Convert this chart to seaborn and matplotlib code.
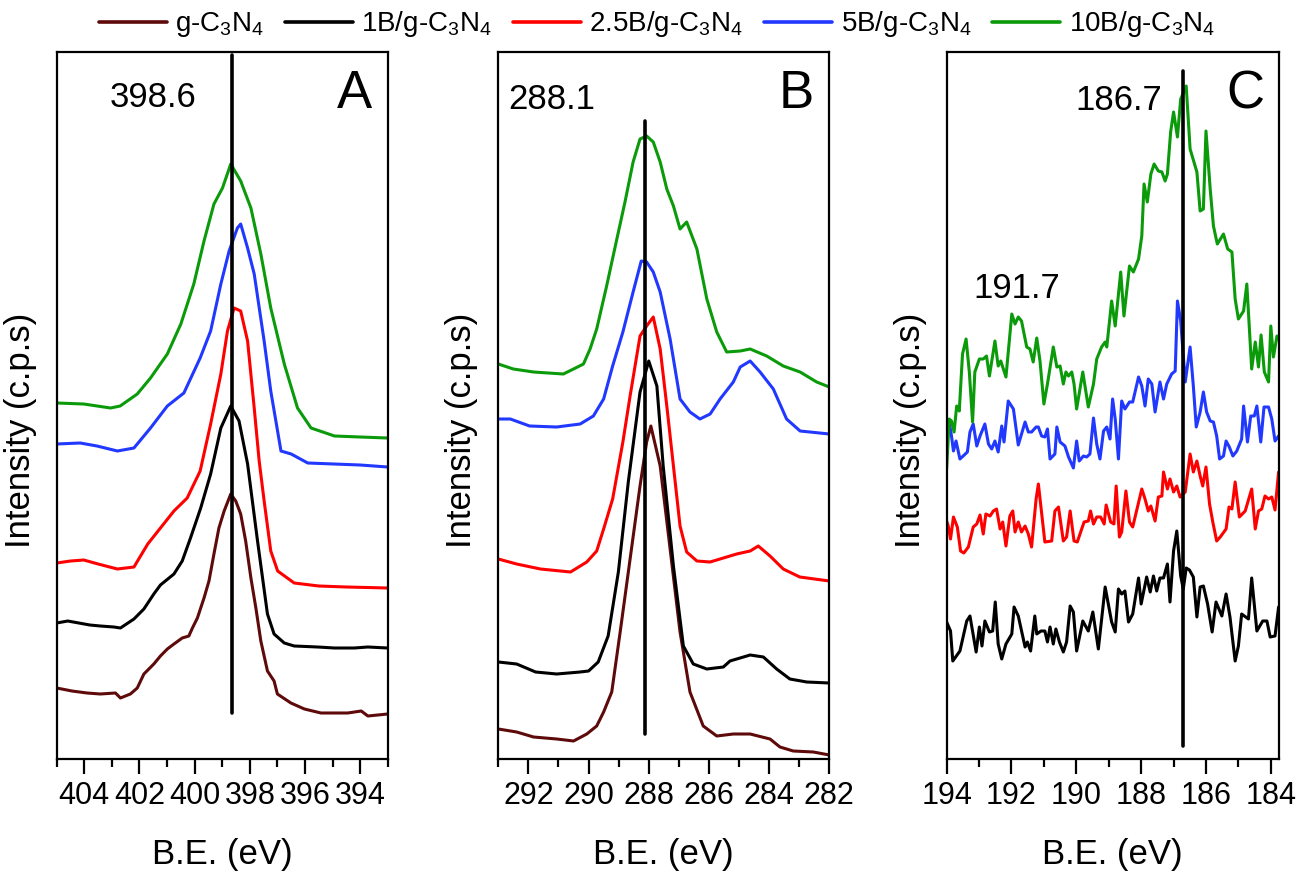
import numpy as np
import pandas as pd
import matplotlib.pyplot as plt
from matplotlib.lines import Line2D
from matplotlib.ticker import MultipleLocator
import seaborn as sns

# ---- data (binding energy in eV, intensity in arbitrary offset units) ----
samples = ['g-C3N4', '1B/g-C3N4', '2.5B/g-C3N4', '5B/g-C3N4', '10B/g-C3N4']
labels = [r'g-C$_3$N$_4$', r'1B/g-C$_3$N$_4$', r'2.5B/g-C$_3$N$_4$',
          r'5B/g-C$_3$N$_4$', r'10B/g-C$_3$N$_4$']

# N 1s
a_brown_x = [405.0, 404.45, 403.9, 403.42, 402.87, 402.69, 402.33, 402.08, 401.84, 401.48, 401.24,
             400.99, 400.75, 400.45, 400.21, 400.08, 399.9, 399.66, 399.48, 399.3, 399.12, 398.93,
             398.69, 398.51, 398.33, 398.15, 397.96, 397.78, 397.6, 397.36, 397.12, 397.0, 396.51,
             396.02, 395.42, 394.93, 394.45, 393.96, 393.72, 393.0]
a_brown_y = [71, 68, 66, 65, 66, 61, 65, 71, 85, 95, 103, 110, 115, 121, 123, 131, 141, 161, 178,
             205, 231, 248, 265, 258, 245, 218, 181, 151, 118, 88, 78, 65, 56, 50, 46, 46, 46, 48,
             43, 45]
a_black_x = [405.0, 404.6, 404.2, 403.8, 403.42, 402.93, 402.69, 402.2, 401.84, 401.48, 401.24,
             400.75, 400.45, 400.15, 399.78, 399.42, 399.05, 398.69, 398.39, 398.08, 397.72, 397.36,
             397.12, 396.75, 396.39, 395.54, 394.93, 394.21, 393.72, 393.0]
a_black_y = [136, 138, 136, 134, 133, 132, 131, 140, 150, 165, 174, 185, 198, 221, 251, 285, 331,
             353, 338, 295, 218, 145, 125, 116, 113, 112, 111, 111, 112, 111]
a_red_x = [405.0, 404.5, 404.02, 403.5, 402.8, 402.2, 401.7, 401.24, 400.75, 400.27, 399.8, 399.42,
           399.05, 398.81, 398.57, 398.33, 398.08, 397.84, 397.66, 397.48, 397.24, 396.99, 396.39,
           395.5, 394.5, 393.0]
a_red_y = [196, 198, 199, 195, 190, 192, 215, 231, 248, 261, 288, 335, 385, 428, 451, 448, 418, 351,
           298, 258, 208, 188, 176, 173, 172, 171]
a_blue_x = [405.0, 404.15, 403.54, 402.8, 402.2, 401.6, 400.99, 400.39, 399.8, 399.42, 399.05,
            398.75, 398.45, 398.33, 398.08, 397.84, 397.48, 397.24, 396.87, 396.5, 395.9, 394.95,
            394.0, 393.0]
a_blue_y = [315, 316, 313, 308, 311, 331, 353, 366, 401, 428, 475, 508, 531, 535, 511, 485, 418, 368,
            308, 305, 296, 295, 294, 292]
a_green_x = [405.0, 404.02, 403.05, 402.7, 402.08, 401.6, 400.99, 400.5, 400.03, 399.66, 399.3,
             398.99, 398.69, 398.33, 397.96, 397.6, 397.24, 396.75, 396.27, 395.78, 394.93, 394.0,
             393.0]
a_green_y = [356, 355, 351, 353, 365, 381, 405, 435, 475, 518, 555, 571, 595, 578, 551, 505, 451, 395,
             351, 331, 323, 322, 321]

# C 1s
b_brown_x = [293.0, 292.39, 291.83, 291.06, 290.5, 290.06, 289.73, 289.5, 289.23, 288.95, 288.62,
             288.29, 288.07, 287.93, 287.62, 287.29, 286.96, 286.63, 286.19, 285.74, 285.19, 284.63,
             283.97, 283.64, 283.2, 282.53, 282.0]
b_brown_y = [30, 27, 22, 20, 18, 25, 33, 47, 67, 127, 200, 273, 317, 333, 293, 210, 127, 67, 33, 23,
             25, 25, 20, 12, 8, 7, 4]
b_black_x = [293.0, 292.39, 291.76, 291.06, 290.28, 290.0, 289.68, 289.35, 289.01, 288.68, 288.29,
             288.0, 287.73, 287.52, 287.18, 286.85, 286.52, 286.07, 285.52, 285.3, 284.63, 284.19,
             283.75, 283.31, 282.75, 282.0]
b_black_y = [97, 95, 87, 85, 87, 88, 97, 123, 187, 277, 367, 398, 373, 293, 193, 113, 95, 90, 92, 98,
             104, 102, 90, 80, 77, 76]
b_red_x = [293.0, 292.39, 291.6, 290.6, 290.06, 289.73, 289.5, 289.2, 288.86, 288.62, 288.29, 288.07,
           287.85, 287.62, 287.4, 287.18, 286.96, 286.74, 286.4, 285.96, 285.63, 285.08, 284.63,
           284.36, 283.97, 283.53, 282.98, 282.0]
b_red_y = [200, 195, 190, 187, 197, 208, 230, 260, 317, 363, 423, 433, 442, 410, 353, 293, 233, 207,
           198, 197, 200, 205, 208, 213, 203, 190, 182, 178]
b_blue_x = [293.0, 292.6, 291.96, 291.06, 290.28, 289.84, 289.5, 289.2, 288.86, 288.52, 288.25,
            288.07, 287.85, 287.62, 287.29, 286.96, 286.63, 286.3, 285.96, 285.63, 285.19, 284.96,
            284.63, 284.3, 283.86, 283.42, 282.97, 282.0]
b_blue_y = [340, 340, 333, 332, 335, 343, 360, 393, 427, 467, 498, 497, 487, 467, 420, 360, 347, 340,
            345, 360, 377, 392, 398, 387, 370, 340, 328, 325]
b_green_x = [293.0, 292.5, 291.83, 290.84, 290.5, 290.17, 289.95, 289.73, 289.4, 289.06, 288.79,
             288.52, 288.29, 288.07, 287.85, 287.62, 287.4, 287.18, 286.96, 286.74, 286.4, 286.07,
             285.74, 285.41, 284.96, 284.63, 284.08, 283.53, 282.97, 282.42, 282.0]
b_green_y = [395, 390, 387, 385, 390, 395, 410, 430, 473, 520, 557, 597, 620, 623, 617, 597, 570, 553,
             530, 537, 510, 460, 427, 407, 408, 410, 403, 393, 387, 377, 372]

# B 1s
c_black_x = [194.0, 193.88, 193.81, 193.59, 193.38, 193.28, 193.09, 192.99, 192.91, 192.82, 192.68,
             192.58, 192.5, 192.41, 192.3, 192.17, 191.99, 191.92, 191.79, 191.58, 191.51, 191.41,
             191.28, 191.22, 191.09, 190.97, 190.89, 190.81, 190.71, 190.63, 190.52, 190.4, 190.3,
             190.19, 190.09, 189.99, 189.8, 189.63, 189.49, 189.32, 189.11, 188.91, 188.8, 188.7,
             188.6, 188.5, 188.39, 188.26, 188.08, 188.0, 187.83, 187.72, 187.62, 187.52, 187.42,
             187.31, 187.19, 187.11, 187.0, 186.9, 186.78, 186.7, 186.61, 186.51, 186.39, 186.28,
             186.18, 186.08, 185.95, 185.81, 185.69, 185.51, 185.38, 185.26, 185.1, 185.0, 184.9,
             184.69, 184.59, 184.43, 184.25, 184.12, 184.02, 183.87, 183.76]
c_black_y = [137, 128, 98, 108, 138, 143, 107, 132, 113, 138, 127, 128, 157, 115, 100, 115, 125, 152,
             143, 112, 117, 108, 143, 125, 128, 128, 117, 132, 115, 130, 117, 107, 117, 153, 147, 108,
             138, 128, 147, 110, 172, 137, 127, 170, 165, 168, 137, 145, 181, 155, 182, 167, 183, 168,
             181, 181, 195, 157, 208, 228, 183, 170, 191, 189, 182, 142, 172, 173, 155, 127, 157, 143,
             165, 142, 98, 113, 145, 140, 181, 128, 138, 138, 122, 123, 152]
c_red_x = [194.0, 193.95, 193.88, 193.79, 193.67, 193.57, 193.47, 193.33, 193.18, 193.07, 192.97,
           192.87, 192.79, 192.66, 192.56, 192.46, 192.35, 192.27, 192.17, 192.05, 191.96, 191.89,
           191.79, 191.69, 191.58, 191.48, 191.38, 191.24, 191.17, 190.97, 190.76, 190.66, 190.55,
           190.4, 190.3, 190.19, 190.07, 189.97, 189.76, 189.63, 189.56, 189.47, 189.37, 189.25,
           189.14, 189.08, 188.94, 188.84, 188.77, 188.67, 188.6, 188.47, 188.36, 188.26, 187.98,
           187.88, 187.78, 187.7, 187.57, 187.47, 187.36, 187.31, 187.19, 187.11, 187.0, 186.9,
           186.8, 186.64, 186.49, 186.39, 186.28, 186.18, 186.1, 186.0, 185.89, 185.79, 185.67,
           185.56, 185.38, 185.29, 185.2, 185.1, 184.97, 184.79, 184.59, 184.48, 184.38, 184.28,
           184.18, 184.07, 183.97, 183.87, 183.76]
c_red_y = [238, 233, 220, 242, 232, 208, 206, 212, 232, 235, 244, 225, 245, 243, 248, 250, 230, 237,
           213, 243, 248, 227, 237, 227, 233, 225, 212, 260, 275, 217, 218, 248, 252, 218, 222, 248,
           218, 217, 237, 238, 248, 235, 242, 242, 235, 254, 237, 235, 273, 222, 227, 268, 237, 232,
           270, 260, 248, 253, 238, 262, 263, 287, 270, 280, 267, 273, 262, 267, 305, 287, 298, 283,
           273, 292, 255, 237, 218, 222, 230, 252, 250, 277, 242, 248, 270, 230, 248, 250, 263, 260,
           262, 249, 287]
c_blue_x = [194.0, 193.92, 193.85, 193.79, 193.71, 193.59, 193.49, 193.36, 193.28, 193.18, 193.07,
            192.97, 192.82, 192.71, 192.61, 192.51, 192.41, 192.3, 192.23, 192.1, 191.94, 191.79,
            191.58, 191.48, 191.38, 191.24, 191.17, 191.07, 190.97, 190.89, 190.81, 190.66, 190.6,
            190.5, 190.35, 190.24, 190.09, 189.99, 189.91, 189.78, 189.68, 189.58, 189.47, 189.37,
            189.27, 189.16, 189.06, 188.96, 188.88, 188.8, 188.7, 188.6, 188.5, 188.36, 188.26,
            188.08, 187.98, 187.88, 187.78, 187.67, 187.57, 187.42, 187.31, 187.21, 187.06, 186.95,
            186.88, 186.78, 186.64, 186.49, 186.39, 186.3, 186.18, 186.08, 185.98, 185.87, 185.77,
            185.67, 185.58, 185.46, 185.38, 185.28, 185.17, 185.05, 184.9, 184.84, 184.72, 184.62,
            184.51, 184.43, 184.31, 184.21, 184.07, 183.97, 183.87, 183.76]
c_blue_y = [327, 337, 323, 308, 318, 300, 303, 307, 327, 335, 313, 323, 335, 315, 310, 318, 307, 333,
            317, 358, 350, 314, 337, 327, 327, 332, 332, 323, 322, 330, 300, 305, 332, 317, 313, 302,
            291, 318, 298, 303, 302, 305, 341, 315, 300, 328, 332, 320, 360, 340, 300, 358, 350, 357,
            357, 382, 373, 353, 380, 375, 347, 377, 360, 375, 385, 388, 458, 438, 377, 412, 373, 332,
            347, 367, 347, 338, 337, 323, 300, 303, 318, 312, 303, 308, 320, 353, 317, 343, 343, 353,
            317, 352, 352, 340, 318, 323]
c_green_x = [194.0, 193.92, 193.85, 193.77, 193.69, 193.61, 193.51, 193.4, 193.3, 193.2, 193.13,
             192.99, 192.87, 192.77, 192.68, 192.51, 192.41, 192.33, 192.25, 192.17, 191.99, 191.89,
             191.79, 191.69, 191.53, 191.43, 191.33, 191.22, 191.12, 191.0, 190.89, 190.71, 190.6,
             190.5, 190.4, 190.32, 190.24, 190.14, 190.07, 189.99, 189.8, 189.63, 189.47, 189.37,
             189.22, 189.11, 189.06, 188.91, 188.8, 188.63, 188.53, 188.36, 188.24, 188.08, 187.98,
             187.91, 187.81, 187.7, 187.6, 187.47, 187.36, 187.26, 187.19, 187.09, 187.0, 186.88,
             186.78, 186.61, 186.49, 186.28, 186.18, 186.08, 186.0, 185.87, 185.77, 185.65, 185.46,
             185.33, 185.2, 185.1, 185.0, 184.84, 184.74, 184.59, 184.48, 184.38, 184.3, 184.2,
             184.07, 184.0, 183.92, 183.81, 183.76]
c_green_y = [290, 340, 338, 327, 353, 348, 405, 420, 387, 337, 387, 400, 400, 403, 383, 418, 393, 398,
             390, 382, 445, 435, 442, 438, 412, 410, 397, 421, 398, 355, 375, 412, 392, 393, 375, 387,
             383, 387, 375, 350, 387, 352, 375, 400, 412, 417, 412, 458, 433, 487, 443, 493, 487, 500,
             523, 575, 557, 585, 595, 588, 587, 578, 585, 627, 647, 622, 660, 673, 610, 587, 548, 550,
             628, 570, 533, 515, 525, 510, 507, 460, 440, 448, 475, 390, 417, 392, 424, 387, 377, 433,
             402, 423, 420]

panels = [
    {'curves': [(samples[0], a_brown_x, a_brown_y), (samples[1], a_black_x, a_black_y),
                (samples[2], a_red_x, a_red_y), (samples[3], a_blue_x, a_blue_y),
                (samples[4], a_green_x, a_green_y)],
     'xlim': (405, 393), 'peak': 398.63, 'vline': (46, 704), 'letter': 'A',
     'ticks': np.arange(394, 405, 2), 'note': ('398.6', 0.291, 0.935)},
    {'curves': [(samples[0], b_brown_x, b_brown_y), (samples[1], b_black_x, b_black_y),
                (samples[2], b_red_x, b_red_y), (samples[3], b_blue_x, b_blue_y),
                (samples[4], b_green_x, b_green_y)],
     'xlim': (293, 282), 'peak': 288.11, 'vline': (25, 638), 'letter': 'B',
     'ticks': np.arange(282, 293, 2), 'note': ('288.1', 0.162, 0.933)},
    {'curves': [(samples[1], c_black_x, c_black_y), (samples[2], c_red_x, c_red_y),
                (samples[3], c_blue_x, c_blue_y), (samples[4], c_green_x, c_green_y)],
     'xlim': (194, 183.75), 'peak': 186.72, 'vline': (13, 688), 'letter': 'C',
     'ticks': np.arange(184, 195, 2), 'note': ('186.7', 0.5185, 0.931)},
]

colors = {'g-C3N4': '#5e0a0a', '1B/g-C3N4': '#000000', '2.5B/g-C3N4': '#ff0000',
          '5B/g-C3N4': '#2138ff', '10B/g-C3N4': '#0a9a0a'}

sns.set_style('ticks')
plt.rcParams['font.family'] = ['Liberation Sans', 'DejaVu Sans']
plt.rcParams['mathtext.default'] = 'regular'
plt.rcParams['text.color'] = 'black'
plt.rcParams['axes.labelcolor'] = 'black'
plt.rcParams['axes.edgecolor'] = 'black'
plt.rcParams['xtick.color'] = 'black'

fig = plt.figure(figsize=(12.98, 8.8), dpi=100)
lefts = [0.0437, 0.3839, 0.7293]
widths = [0.255, 0.255, 0.256]

for i, p in enumerate(panels):
    ax = fig.add_axes([lefts[i], 0.1375, widths[i], 0.8034])
    rows = []
    for name, xs, ys in p['curves']:
        rows += [{'BE': x, 'I': y, 'sample': name} for x, y in zip(xs, ys)]
    df = pd.DataFrame(rows)
    sns.lineplot(data=df, x='BE', y='I', hue='sample', palette=colors, estimator=None,
                 sort=True, lw=2.2, legend=False, ax=ax)
    ax.plot([p['peak'], p['peak']], list(p['vline']), color='black', lw=2.6)
    ax.set_xlim(*p['xlim'])
    ax.set_ylim(0, 707)
    ax.set_yticks([])
    ax.set_xticks(p['ticks'])
    ax.xaxis.set_minor_locator(MultipleLocator(1))
    ax.tick_params(axis='x', which='major', length=11, width=1.6, labelsize=22, pad=5,
                   direction='out')
    ax.tick_params(axis='x', which='minor', length=6, width=1.6, direction='out')
    for s in ax.spines.values():
        s.set_visible(True)
        s.set_linewidth(1.6)
        s.set_color('black')
    ax.set_xlabel('B.E. (eV)', fontsize=25)
    ax.xaxis.set_label_coords(0.5, -0.112)
    ax.set_ylabel('Intensity (c.p.s)', fontsize=25)
    ax.yaxis.set_label_coords(-0.06, 0.465)
    txt, nx, ny = p['note']
    ax.text(nx, ny, txt, transform=ax.transAxes, fontsize=25, ha='center', va='center')
    ax.text(0.9, 0.94, p['letter'], transform=ax.transAxes, fontsize=38, ha='center',
            va='center')
    if p['letter'] == 'C':
        ax.text(0.2116, 0.666, '191.7', transform=ax.transAxes, fontsize=25, ha='center',
                va='center')

handles = [Line2D([], [], color=colors[s], lw=2.6) for s in samples]
fig.legend(handles, labels, loc='upper center', bbox_to_anchor=(0.506, 1.005), ncol=5,
           frameon=False, fontsize=20, handlelength=2.45, handletextpad=0.3,
           columnspacing=0.75, borderaxespad=0.1)

fig.savefig('out.png', dpi=100)
